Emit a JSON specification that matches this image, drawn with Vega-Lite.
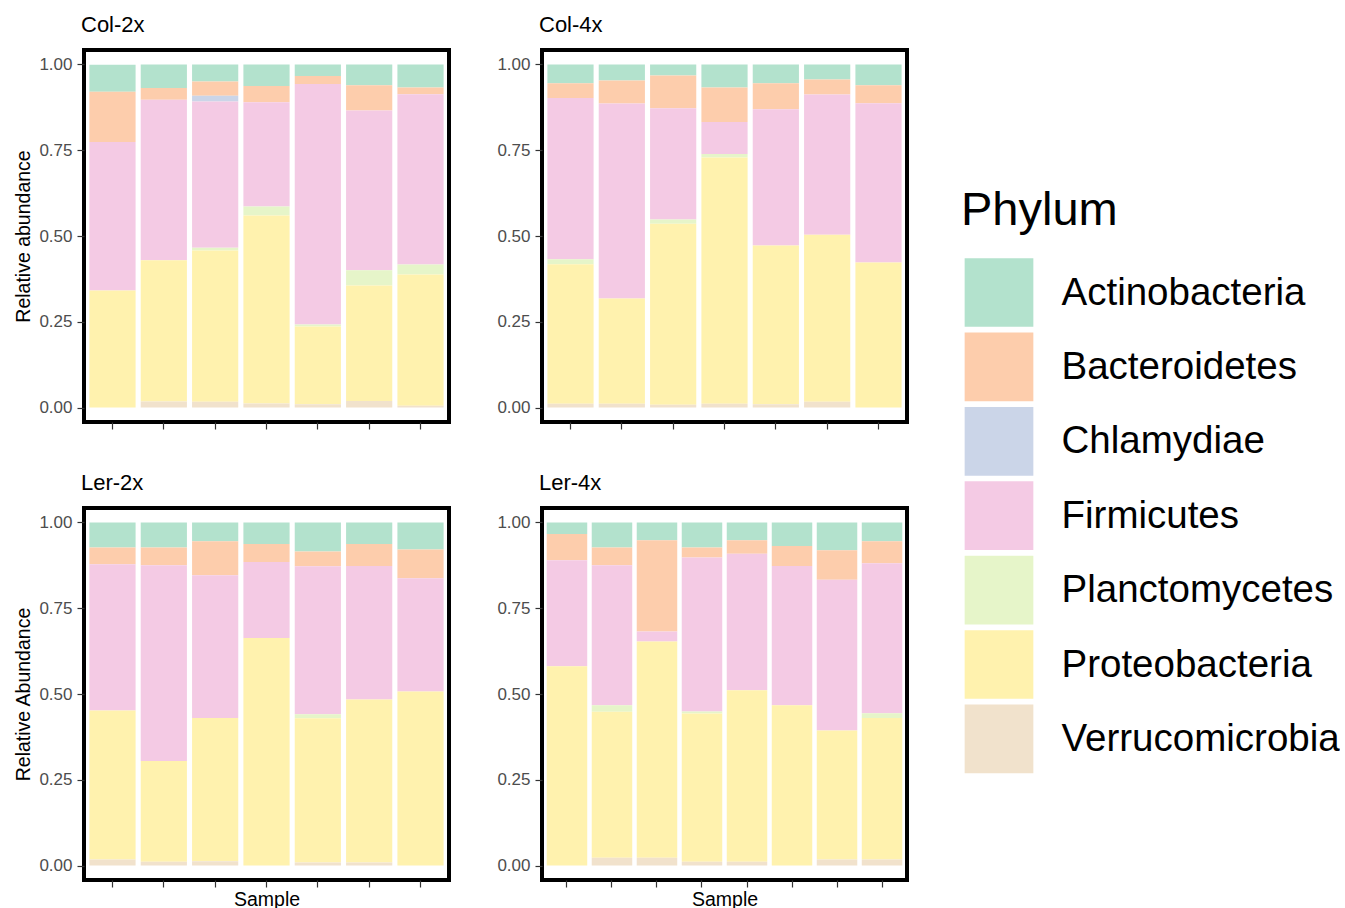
{
  "$schema": "https://vega.github.io/schema/vega-lite/v6.json",
  "padding": {"left": 11, "top": 12, "right": 0, "bottom": 0},
  "background": "white",
  "data": {"values": [
    {"panel":"Col-2x","sample":"S1","phylum":"Actinobacteria","abundance":0.079},
    {"panel":"Col-2x","sample":"S1","phylum":"Bacteroidetes","abundance":0.146},
    {"panel":"Col-2x","sample":"S1","phylum":"Firmicutes","abundance":0.433},
    {"panel":"Col-2x","sample":"S1","phylum":"Proteobacteria","abundance":0.341},
    {"panel":"Col-2x","sample":"S2","phylum":"Actinobacteria","abundance":0.069},
    {"panel":"Col-2x","sample":"S2","phylum":"Bacteroidetes","abundance":0.034},
    {"panel":"Col-2x","sample":"S2","phylum":"Firmicutes","abundance":0.468},
    {"panel":"Col-2x","sample":"S2","phylum":"Proteobacteria","abundance":0.411},
    {"panel":"Col-2x","sample":"S2","phylum":"Verrucomicrobia","abundance":0.018},
    {"panel":"Col-2x","sample":"S3","phylum":"Actinobacteria","abundance":0.050},
    {"panel":"Col-2x","sample":"S3","phylum":"Bacteroidetes","abundance":0.041},
    {"panel":"Col-2x","sample":"S3","phylum":"Chlamydiae","abundance":0.017},
    {"panel":"Col-2x","sample":"S3","phylum":"Firmicutes","abundance":0.426},
    {"panel":"Col-2x","sample":"S3","phylum":"Planctomycetes","abundance":0.008},
    {"panel":"Col-2x","sample":"S3","phylum":"Proteobacteria","abundance":0.441},
    {"panel":"Col-2x","sample":"S3","phylum":"Verrucomicrobia","abundance":0.017},
    {"panel":"Col-2x","sample":"S4","phylum":"Actinobacteria","abundance":0.063},
    {"panel":"Col-2x","sample":"S4","phylum":"Bacteroidetes","abundance":0.047},
    {"panel":"Col-2x","sample":"S4","phylum":"Firmicutes","abundance":0.304},
    {"panel":"Col-2x","sample":"S4","phylum":"Planctomycetes","abundance":0.026},
    {"panel":"Col-2x","sample":"S4","phylum":"Proteobacteria","abundance":0.548},
    {"panel":"Col-2x","sample":"S4","phylum":"Verrucomicrobia","abundance":0.012},
    {"panel":"Col-2x","sample":"S5","phylum":"Actinobacteria","abundance":0.034},
    {"panel":"Col-2x","sample":"S5","phylum":"Bacteroidetes","abundance":0.023},
    {"panel":"Col-2x","sample":"S5","phylum":"Firmicutes","abundance":0.701},
    {"panel":"Col-2x","sample":"S5","phylum":"Planctomycetes","abundance":0.006},
    {"panel":"Col-2x","sample":"S5","phylum":"Proteobacteria","abundance":0.226},
    {"panel":"Col-2x","sample":"S5","phylum":"Verrucomicrobia","abundance":0.010},
    {"panel":"Col-2x","sample":"S6","phylum":"Actinobacteria","abundance":0.061},
    {"panel":"Col-2x","sample":"S6","phylum":"Bacteroidetes","abundance":0.073},
    {"panel":"Col-2x","sample":"S6","phylum":"Firmicutes","abundance":0.466},
    {"panel":"Col-2x","sample":"S6","phylum":"Planctomycetes","abundance":0.044},
    {"panel":"Col-2x","sample":"S6","phylum":"Proteobacteria","abundance":0.337},
    {"panel":"Col-2x","sample":"S6","phylum":"Verrucomicrobia","abundance":0.019},
    {"panel":"Col-2x","sample":"S7","phylum":"Actinobacteria","abundance":0.067},
    {"panel":"Col-2x","sample":"S7","phylum":"Bacteroidetes","abundance":0.020},
    {"panel":"Col-2x","sample":"S7","phylum":"Firmicutes","abundance":0.496},
    {"panel":"Col-2x","sample":"S7","phylum":"Planctomycetes","abundance":0.029},
    {"panel":"Col-2x","sample":"S7","phylum":"Proteobacteria","abundance":0.383},
    {"panel":"Col-2x","sample":"S7","phylum":"Verrucomicrobia","abundance":0.005},

    {"panel":"Col-4x","sample":"S1","phylum":"Actinobacteria","abundance":0.055},
    {"panel":"Col-4x","sample":"S1","phylum":"Bacteroidetes","abundance":0.043},
    {"panel":"Col-4x","sample":"S1","phylum":"Firmicutes","abundance":0.470},
    {"panel":"Col-4x","sample":"S1","phylum":"Planctomycetes","abundance":0.014},
    {"panel":"Col-4x","sample":"S1","phylum":"Proteobacteria","abundance":0.407},
    {"panel":"Col-4x","sample":"S1","phylum":"Verrucomicrobia","abundance":0.011},
    {"panel":"Col-4x","sample":"S2","phylum":"Actinobacteria","abundance":0.047},
    {"panel":"Col-4x","sample":"S2","phylum":"Bacteroidetes","abundance":0.067},
    {"panel":"Col-4x","sample":"S2","phylum":"Firmicutes","abundance":0.568},
    {"panel":"Col-4x","sample":"S2","phylum":"Proteobacteria","abundance":0.307},
    {"panel":"Col-4x","sample":"S2","phylum":"Verrucomicrobia","abundance":0.011},
    {"panel":"Col-4x","sample":"S3","phylum":"Actinobacteria","abundance":0.032},
    {"panel":"Col-4x","sample":"S3","phylum":"Bacteroidetes","abundance":0.096},
    {"panel":"Col-4x","sample":"S3","phylum":"Firmicutes","abundance":0.324},
    {"panel":"Col-4x","sample":"S3","phylum":"Planctomycetes","abundance":0.012},
    {"panel":"Col-4x","sample":"S3","phylum":"Proteobacteria","abundance":0.528},
    {"panel":"Col-4x","sample":"S3","phylum":"Verrucomicrobia","abundance":0.008},
    {"panel":"Col-4x","sample":"S4","phylum":"Actinobacteria","abundance":0.067},
    {"panel":"Col-4x","sample":"S4","phylum":"Bacteroidetes","abundance":0.101},
    {"panel":"Col-4x","sample":"S4","phylum":"Firmicutes","abundance":0.093},
    {"panel":"Col-4x","sample":"S4","phylum":"Planctomycetes","abundance":0.010},
    {"panel":"Col-4x","sample":"S4","phylum":"Proteobacteria","abundance":0.718},
    {"panel":"Col-4x","sample":"S4","phylum":"Verrucomicrobia","abundance":0.011},
    {"panel":"Col-4x","sample":"S5","phylum":"Actinobacteria","abundance":0.055},
    {"panel":"Col-4x","sample":"S5","phylum":"Bacteroidetes","abundance":0.076},
    {"panel":"Col-4x","sample":"S5","phylum":"Firmicutes","abundance":0.397},
    {"panel":"Col-4x","sample":"S5","phylum":"Proteobacteria","abundance":0.462},
    {"panel":"Col-4x","sample":"S5","phylum":"Verrucomicrobia","abundance":0.010},
    {"panel":"Col-4x","sample":"S6","phylum":"Actinobacteria","abundance":0.044},
    {"panel":"Col-4x","sample":"S6","phylum":"Bacteroidetes","abundance":0.044},
    {"panel":"Col-4x","sample":"S6","phylum":"Firmicutes","abundance":0.408},
    {"panel":"Col-4x","sample":"S6","phylum":"Proteobacteria","abundance":0.487},
    {"panel":"Col-4x","sample":"S6","phylum":"Verrucomicrobia","abundance":0.017},
    {"panel":"Col-4x","sample":"S7","phylum":"Actinobacteria","abundance":0.061},
    {"panel":"Col-4x","sample":"S7","phylum":"Bacteroidetes","abundance":0.052},
    {"panel":"Col-4x","sample":"S7","phylum":"Firmicutes","abundance":0.464},
    {"panel":"Col-4x","sample":"S7","phylum":"Proteobacteria","abundance":0.423},

    {"panel":"Ler-2x","sample":"S1","phylum":"Actinobacteria","abundance":0.073},
    {"panel":"Ler-2x","sample":"S1","phylum":"Bacteroidetes","abundance":0.049},
    {"panel":"Ler-2x","sample":"S1","phylum":"Firmicutes","abundance":0.426},
    {"panel":"Ler-2x","sample":"S1","phylum":"Proteobacteria","abundance":0.434},
    {"panel":"Ler-2x","sample":"S1","phylum":"Verrucomicrobia","abundance":0.018},
    {"panel":"Ler-2x","sample":"S2","phylum":"Actinobacteria","abundance":0.073},
    {"panel":"Ler-2x","sample":"S2","phylum":"Bacteroidetes","abundance":0.052},
    {"panel":"Ler-2x","sample":"S2","phylum":"Firmicutes","abundance":0.570},
    {"panel":"Ler-2x","sample":"S2","phylum":"Proteobacteria","abundance":0.294},
    {"panel":"Ler-2x","sample":"S2","phylum":"Verrucomicrobia","abundance":0.011},
    {"panel":"Ler-2x","sample":"S3","phylum":"Actinobacteria","abundance":0.055},
    {"panel":"Ler-2x","sample":"S3","phylum":"Bacteroidetes","abundance":0.099},
    {"panel":"Ler-2x","sample":"S3","phylum":"Firmicutes","abundance":0.416},
    {"panel":"Ler-2x","sample":"S3","phylum":"Proteobacteria","abundance":0.417},
    {"panel":"Ler-2x","sample":"S3","phylum":"Verrucomicrobia","abundance":0.013},
    {"panel":"Ler-2x","sample":"S4","phylum":"Actinobacteria","abundance":0.063},
    {"panel":"Ler-2x","sample":"S4","phylum":"Bacteroidetes","abundance":0.052},
    {"panel":"Ler-2x","sample":"S4","phylum":"Firmicutes","abundance":0.222},
    {"panel":"Ler-2x","sample":"S4","phylum":"Proteobacteria","abundance":0.663},
    {"panel":"Ler-2x","sample":"S5","phylum":"Actinobacteria","abundance":0.085},
    {"panel":"Ler-2x","sample":"S5","phylum":"Bacteroidetes","abundance":0.043},
    {"panel":"Ler-2x","sample":"S5","phylum":"Firmicutes","abundance":0.431},
    {"panel":"Ler-2x","sample":"S5","phylum":"Planctomycetes","abundance":0.012},
    {"panel":"Ler-2x","sample":"S5","phylum":"Proteobacteria","abundance":0.420},
    {"panel":"Ler-2x","sample":"S5","phylum":"Verrucomicrobia","abundance":0.009},
    {"panel":"Ler-2x","sample":"S6","phylum":"Actinobacteria","abundance":0.063},
    {"panel":"Ler-2x","sample":"S6","phylum":"Bacteroidetes","abundance":0.064},
    {"panel":"Ler-2x","sample":"S6","phylum":"Firmicutes","abundance":0.389},
    {"panel":"Ler-2x","sample":"S6","phylum":"Proteobacteria","abundance":0.475},
    {"panel":"Ler-2x","sample":"S6","phylum":"Verrucomicrobia","abundance":0.009},
    {"panel":"Ler-2x","sample":"S7","phylum":"Actinobacteria","abundance":0.079},
    {"panel":"Ler-2x","sample":"S7","phylum":"Bacteroidetes","abundance":0.084},
    {"panel":"Ler-2x","sample":"S7","phylum":"Firmicutes","abundance":0.330},
    {"panel":"Ler-2x","sample":"S7","phylum":"Proteobacteria","abundance":0.507},

    {"panel":"Ler-4x","sample":"S1","phylum":"Actinobacteria","abundance":0.034},
    {"panel":"Ler-4x","sample":"S1","phylum":"Bacteroidetes","abundance":0.076},
    {"panel":"Ler-4x","sample":"S1","phylum":"Firmicutes","abundance":0.309},
    {"panel":"Ler-4x","sample":"S1","phylum":"Proteobacteria","abundance":0.581},
    {"panel":"Ler-4x","sample":"S2","phylum":"Actinobacteria","abundance":0.073},
    {"panel":"Ler-4x","sample":"S2","phylum":"Bacteroidetes","abundance":0.052},
    {"panel":"Ler-4x","sample":"S2","phylum":"Firmicutes","abundance":0.408},
    {"panel":"Ler-4x","sample":"S2","phylum":"Planctomycetes","abundance":0.019},
    {"panel":"Ler-4x","sample":"S2","phylum":"Proteobacteria","abundance":0.425},
    {"panel":"Ler-4x","sample":"S2","phylum":"Verrucomicrobia","abundance":0.023},
    {"panel":"Ler-4x","sample":"S3","phylum":"Actinobacteria","abundance":0.052},
    {"panel":"Ler-4x","sample":"S3","phylum":"Bacteroidetes","abundance":0.266},
    {"panel":"Ler-4x","sample":"S3","phylum":"Firmicutes","abundance":0.029},
    {"panel":"Ler-4x","sample":"S3","phylum":"Proteobacteria","abundance":0.630},
    {"panel":"Ler-4x","sample":"S3","phylum":"Verrucomicrobia","abundance":0.023},
    {"panel":"Ler-4x","sample":"S4","phylum":"Actinobacteria","abundance":0.073},
    {"panel":"Ler-4x","sample":"S4","phylum":"Bacteroidetes","abundance":0.029},
    {"panel":"Ler-4x","sample":"S4","phylum":"Firmicutes","abundance":0.449},
    {"panel":"Ler-4x","sample":"S4","phylum":"Planctomycetes","abundance":0.006},
    {"panel":"Ler-4x","sample":"S4","phylum":"Proteobacteria","abundance":0.432},
    {"panel":"Ler-4x","sample":"S4","phylum":"Verrucomicrobia","abundance":0.011},
    {"panel":"Ler-4x","sample":"S5","phylum":"Actinobacteria","abundance":0.052},
    {"panel":"Ler-4x","sample":"S5","phylum":"Bacteroidetes","abundance":0.039},
    {"panel":"Ler-4x","sample":"S5","phylum":"Firmicutes","abundance":0.398},
    {"panel":"Ler-4x","sample":"S5","phylum":"Proteobacteria","abundance":0.500},
    {"panel":"Ler-4x","sample":"S5","phylum":"Verrucomicrobia","abundance":0.011},
    {"panel":"Ler-4x","sample":"S6","phylum":"Actinobacteria","abundance":0.069},
    {"panel":"Ler-4x","sample":"S6","phylum":"Bacteroidetes","abundance":0.058},
    {"panel":"Ler-4x","sample":"S6","phylum":"Firmicutes","abundance":0.406},
    {"panel":"Ler-4x","sample":"S6","phylum":"Proteobacteria","abundance":0.467},
    {"panel":"Ler-4x","sample":"S7","phylum":"Actinobacteria","abundance":0.081},
    {"panel":"Ler-4x","sample":"S7","phylum":"Bacteroidetes","abundance":0.086},
    {"panel":"Ler-4x","sample":"S7","phylum":"Firmicutes","abundance":0.439},
    {"panel":"Ler-4x","sample":"S7","phylum":"Proteobacteria","abundance":0.376},
    {"panel":"Ler-4x","sample":"S7","phylum":"Verrucomicrobia","abundance":0.018},
    {"panel":"Ler-4x","sample":"S8","phylum":"Actinobacteria","abundance":0.055},
    {"panel":"Ler-4x","sample":"S8","phylum":"Bacteroidetes","abundance":0.064},
    {"panel":"Ler-4x","sample":"S8","phylum":"Firmicutes","abundance":0.437},
    {"panel":"Ler-4x","sample":"S8","phylum":"Planctomycetes","abundance":0.014},
    {"panel":"Ler-4x","sample":"S8","phylum":"Proteobacteria","abundance":0.412},
    {"panel":"Ler-4x","sample":"S8","phylum":"Verrucomicrobia","abundance":0.018}
  ]},
  "vconcat": [
    {
      "hconcat": [
        {
          "title": {"text": "Col-2x"},
          "width": 365, "height": 372,
          "transform": [{"filter": "datum.panel === 'Col-2x'"}],
          "mark": {"type": "bar"},
          "encoding": {
            "x": {"field": "sample", "type": "nominal", "scale": {"paddingInner": 0.1, "paddingOuter": 0.105}, "axis": {"labels": false, "title": null}},
            "y": {"field": "abundance", "type": "quantitative", "stack": "zero", "scale": {"domain": [-0.042, 1.042], "nice": false, "zero": false}, "axis": {"values": [0, 0.25, 0.5, 0.75, 1], "format": ".2f", "title": "Relative abundance"}},
            "color": {"field": "phylum", "type": "nominal", "title": "Phylum", "scale": {"domain": ["Actinobacteria","Bacteroidetes","Chlamydiae","Firmicutes","Planctomycetes","Proteobacteria","Verrucomicrobia"], "range": ["#B3E2CD","#FDCDAC","#CBD5E8","#F4CAE4","#E6F5C9","#FFF2AE","#F1E2CC"]}},
            "order": {"field": "phylum", "sort": "descending"}
          }
        },
        {
          "title": {"text": "Col-4x"},
          "width": 365, "height": 372,
          "transform": [{"filter": "datum.panel === 'Col-4x'"}],
          "mark": {"type": "bar"},
          "encoding": {
            "x": {"field": "sample", "type": "nominal", "scale": {"paddingInner": 0.1, "paddingOuter": 0.105}, "axis": {"labels": false, "title": null}},
            "y": {"field": "abundance", "type": "quantitative", "stack": "zero", "scale": {"domain": [-0.042, 1.042], "nice": false, "zero": false}, "axis": {"values": [0, 0.25, 0.5, 0.75, 1], "format": ".2f", "title": null}},
            "color": {"field": "phylum", "type": "nominal", "title": "Phylum", "scale": {"domain": ["Actinobacteria","Bacteroidetes","Chlamydiae","Firmicutes","Planctomycetes","Proteobacteria","Verrucomicrobia"], "range": ["#B3E2CD","#FDCDAC","#CBD5E8","#F4CAE4","#E6F5C9","#FFF2AE","#F1E2CC"]}},
            "order": {"field": "phylum", "sort": "descending"}
          }
        }
      ]
    },
    {
      "hconcat": [
        {
          "title": {"text": "Ler-2x"},
          "width": 365, "height": 372,
          "transform": [{"filter": "datum.panel === 'Ler-2x'"}],
          "mark": {"type": "bar"},
          "encoding": {
            "x": {"field": "sample", "type": "nominal", "scale": {"paddingInner": 0.1, "paddingOuter": 0.105}, "axis": {"labels": false, "title": "Sample", "titlePadding": 3}},
            "y": {"field": "abundance", "type": "quantitative", "stack": "zero", "scale": {"domain": [-0.042, 1.042], "nice": false, "zero": false}, "axis": {"values": [0, 0.25, 0.5, 0.75, 1], "format": ".2f", "title": "Relative Abundance"}},
            "color": {"field": "phylum", "type": "nominal", "title": "Phylum", "scale": {"domain": ["Actinobacteria","Bacteroidetes","Chlamydiae","Firmicutes","Planctomycetes","Proteobacteria","Verrucomicrobia"], "range": ["#B3E2CD","#FDCDAC","#CBD5E8","#F4CAE4","#E6F5C9","#FFF2AE","#F1E2CC"]}},
            "order": {"field": "phylum", "sort": "descending"}
          }
        },
        {
          "title": {"text": "Ler-4x"},
          "width": 365, "height": 372,
          "transform": [{"filter": "datum.panel === 'Ler-4x'"}],
          "mark": {"type": "bar"},
          "encoding": {
            "x": {"field": "sample", "type": "nominal", "scale": {"paddingInner": 0.1, "paddingOuter": 0.105}, "axis": {"labels": false, "title": "Sample", "titlePadding": 3}},
            "y": {"field": "abundance", "type": "quantitative", "stack": "zero", "scale": {"domain": [-0.042, 1.042], "nice": false, "zero": false}, "axis": {"values": [0, 0.25, 0.5, 0.75, 1], "format": ".2f", "title": null}},
            "color": {"field": "phylum", "type": "nominal", "title": "Phylum", "scale": {"domain": ["Actinobacteria","Bacteroidetes","Chlamydiae","Firmicutes","Planctomycetes","Proteobacteria","Verrucomicrobia"], "range": ["#B3E2CD","#FDCDAC","#CBD5E8","#F4CAE4","#E6F5C9","#FFF2AE","#F1E2CC"]}},
            "order": {"field": "phylum", "sort": "descending"}
          }
        }
      ]
    }
  ],
  "spacing": 38,
  "resolve": {"scale": {"color": "shared"}, "legend": {"color": "shared"}},
  "config": {
    "font": "Liberation Sans",
    "concat": {"spacing": 43},
    "view": {"stroke": "black", "strokeWidth": 4},
    "title": {"fontSize": 22, "fontWeight": "normal", "anchor": "start", "frame": "group", "offset": 13, "dx": -3, "color": "#000000"},
    "axis": {"grid": false, "domain": false, "tickColor": "#333333", "tickSize": 7, "tickWidth": 1.2, "labelFontSize": 17, "labelColor": "#4D4D4D", "labelPadding": 5, "titleFontSize": 19.5, "titleFontWeight": "normal", "titleColor": "#000000", "titlePadding": 5},
    "legend": {"orient": "none", "legendX": 877, "legendY": 138, "padding": 0, "titleFontSize": 47, "titleFontWeight": "normal", "titleColor": "#000000", "titlePadding": 23, "labelFontSize": 38.5, "labelColor": "#000000", "labelOffset": 28, "symbolType": "square", "symbolSize": 4720, "symbolStrokeWidth": 0, "symbolOffset": 3.5, "rowPadding": 5.4, "labelLimit": 400}
  }
}
